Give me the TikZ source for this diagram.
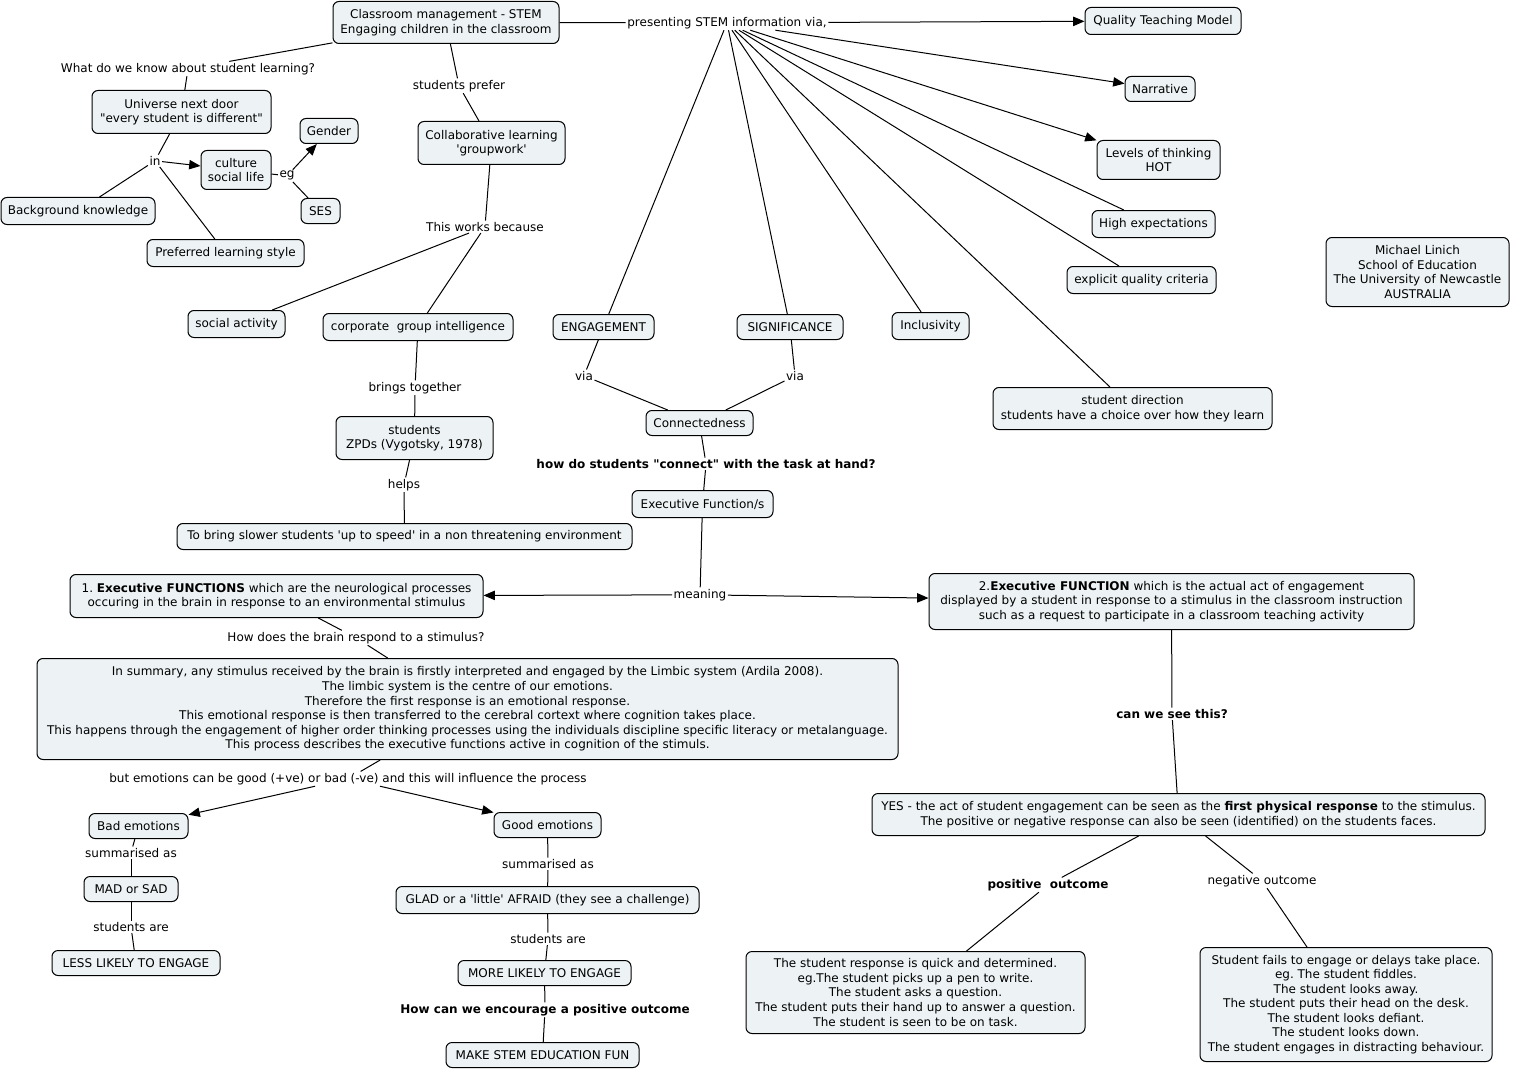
\documentclass[tikz,border=0pt]{standalone}
\usepackage{fontspec}
\usetikzlibrary{arrows.meta}
\newfontfamily\vf{DejaVu Sans}
\definecolor{cfill}{RGB}{237,243,245}
\newcommand\cpt[6]{\node[concept, minimum width={(#4-#2)*0.75pt}, minimum height={(#5-#3)*0.75pt}] (#1) at ({(#2+#4)/2},{(#3+#5)/2+0.5}) {#6};}
\newcommand\lnk[4]{\node[linkph] (#1) at (#2,#3+0.8) {#4};}
\tikzset{
  concept/.style={draw, line width=0.75pt, fill=cfill, rounded corners=4.5pt, inner sep=2pt, align=center},
  linkph/.style={inner sep=1pt, align=center},
  conn/.style={line width=0.75pt},
  arr/.style={line width=0.75pt, -{Triangle[length=8.5pt,width=7pt]}}
}
\frenchspacing
\begin{document}
\frenchspacing
\begin{tikzpicture}[x=0.75pt,y=-0.75pt,font=\vf\fontsize{9}{10.9}\selectfont\frenchspacing]
\useasboundingbox (0,0) rectangle (1513,1070);
% concepts
\cpt{cm}{333}{1}{559}{43}{Classroom management - STEM\\Engaging children in the classroom}
\cpt{qtm}{1085}{7}{1241}{34}{Quality Teaching Model}
\cpt{narr}{1125}{76}{1195}{101}{Narrative}
\cpt{lot}{1097}{140}{1220}{179}{Levels of thinking\\HOT}
\cpt{hiexp}{1092}{210}{1215}{237}{High expectations}
\cpt{eqc}{1067}{266}{1216}{293}{explicit quality criteria}
\cpt{author}{1326}{237}{1509}{306}{Michael Linich\\School of Education\\The University of Newcastle\\AUSTRALIA}
\cpt{und}{92}{90}{271}{133}{Universe next door\\"every student is different"}
\cpt{gender}{300}{118}{358}{143}{Gender}
\cpt{culture}{201}{150}{271}{189}{culture\\social life}
\cpt{ses}{301}{198}{340}{223}{SES}
\cpt{bk}{1}{197}{155}{224}{Background knowledge}
\cpt{pls}{147}{239}{304}{266}{Preferred learning style}
\cpt{collab}{418}{121}{565}{164}{Collaborative learning\\'groupwork'}
\cpt{social}{188}{310}{285}{337}{social activity}
\cpt{corp}{323}{313}{513}{340}{corporate\ \ group intelligence}
\cpt{zpd}{336}{416}{493}{459}{students\\ZPDs (Vygotsky, 1978)}
\cpt{slower}{177}{523}{632}{549}{To bring slower students 'up to speed' in a non threatening environment}
\cpt{eng}{553}{314}{654}{339}{ENGAGEMENT}
\cpt{sig}{737}{314}{843}{339}{SIGNIFICANCE}
\cpt{incl}{892}{312}{969}{339}{Inclusivity}
\cpt{sdir}{993}{387}{1272}{429}{student direction\\students have a choice over how they learn}
\cpt{cnd}{646}{410}{753}{435}{Connectedness}
\cpt{ef}{632}{490}{773}{517}{Executive Function/s}
\cpt{efa}{70}{574}{483}{617}{1. \textbf{Executive FUNCTIONS} which are the neurological processes\\occuring in the brain in response to an environmental stimulus}
\cpt{efb}{929}{573}{1414}{629}{2.\textbf{Executive FUNCTION} which is the actual act of engagement\\displayed by a student in response to a stimulus in the classroom instruction\\such as a request to participate in a classroom teaching activity}
\cpt{summ}{37}{658}{898}{759}{In summary, any stimulus received by the brain is firstly interpreted and engaged by the Limbic system (Ardila 2008).\\The limbic system is the centre of our emotions.\\Therefore the first response is an emotional response.\\This emotional response is then transferred to the cerebral cortext where cognition takes place.\\This happens through the engagement of higher order thinking processes using the individuals discipline specific literacy or metalanguage.\\This process describes the executive functions active in cognition of the stimuls.}
\cpt{bad}{89}{813}{188}{838}{Bad emotions}
\cpt{good}{494}{812}{601}{837}{Good emotions}
\cpt{mad}{84}{876}{178}{901}{MAD or SAD}
\cpt{glad}{396}{886}{699}{913}{GLAD or a 'little' AFRAID (they see a challenge)}
\cpt{less}{52}{950}{220}{975}{LESS LIKELY TO ENGAGE}
\cpt{more}{458}{960}{631}{985}{MORE LIKELY TO ENGAGE}
\cpt{fun}{446}{1042}{639}{1067}{MAKE STEM EDUCATION FUN}
\cpt{yes}{872}{793}{1485}{835}{YES - the act of student engagement can be seen as the \textbf{first physical response} to the stimulus.\\The positive or negative response can also be seen (identified) on the students faces.}
\cpt{pos}{746}{951}{1085}{1033}{The student response is quick and determined.\\eg.The student picks up a pen to write.\\The student asks a question.\\The student puts their hand up to answer a question.\\The student is seen to be on task.}
\cpt{neg}{1200}{947}{1492}{1061}{Student fails to engage or delays take place.\\eg. The student fiddles.\\The student looks away.\\The student puts their head on the desk.\\The student looks defiant.\\The student looks down.\\The student engages in distracting behaviour.}
% linking phrases
\lnk{lknow}{188}{68}{What do we know about student learning?}
\lnk{lpres}{727}{22}{presenting STEM information via,}
\lnk{lpref}{459}{85}{students prefer}
\lnk{lin}{155}{160}{in}
\lnk{leg}{287}{175}{eg}
\lnk{lworks}{485}{226}{This works because}
\lnk{lbring}{415}{387}{brings together}
\lnk{lhelps}{404}{484}{helps}
\lnk{lvia1}{584}{375}{via}
\lnk{lvia2}{795}{375}{via}
\node[linkph,font=\vf\fontsize{9}{10.9}\selectfont\bfseries] (lhow) at (706,463.8) {how do students "connect" with the task at hand?};
\lnk{lmean}{700}{594}{meaning}
\lnk{lbrain}{356}{637}{How does the brain respond to a stimulus?}
\lnk{lbut}{348}{778}{but emotions can be good (+ve) or bad (-ve) and this will influence the process}
\lnk{lsuma}{131}{852}{summarised as}
\lnk{lsumb}{548}{863}{summarised as}
\lnk{lstua}{131}{926}{students are}
\lnk{lstub}{548}{938}{students are}
\node[linkph,font=\vf\fontsize{9}{10.9}\selectfont\bfseries] (lenc) at (545,1009.8) {How can we encourage a positive outcome};
\node[linkph,font=\vf\fontsize{9}{10.9}\selectfont\bfseries] (lsee) at (1172,713.8) {can we see this?};
\node[linkph,font=\vf\fontsize{9}{10.9}\selectfont\bfseries] (lpos) at (1048,884.8) {positive\ \ outcome};
\lnk{lneg}{1262}{880}{negative outcome}
% connectors
\draw[conn] (cm) -- (lknow);
\draw[conn] (lknow) -- (und);
\draw[conn] (und) -- (lin);
\draw[arr] (lin) -- (culture);
\draw[conn] (lin) -- (bk);
\draw[conn] (lin) -- (pls);
\draw[conn] (culture) -- (leg);
\draw[arr] (leg) -- (gender);
\draw[conn] (leg) -- (ses);
\draw[conn] (cm) -- (lpres);
\draw[arr] (lpres) -- (qtm);
\draw[arr] (lpres) -- (narr);
\draw[arr] (lpres) -- (lot);
\draw[conn] (lpres) -- (hiexp);
\draw[conn] (lpres) -- (eqc);
\draw[conn] (lpres) -- (sdir);
\draw[conn] (lpres) -- (incl);
\draw[conn] (lpres) -- (sig);
\draw[conn] (lpres) -- (eng);
\draw[conn] (cm) -- (lpref);
\draw[conn] (lpref) -- (collab);
\draw[conn] (collab) -- (lworks);
\draw[conn] (lworks) -- (social);
\draw[conn] (lworks) -- (corp);
\draw[conn] (corp) -- (lbring);
\draw[conn] (lbring) -- (zpd);
\draw[conn] (zpd) -- (lhelps);
\draw[conn] (lhelps) -- (slower);
\draw[conn] (eng) -- (lvia1);
\draw[conn] (lvia1) -- (cnd);
\draw[conn] (sig) -- (lvia2);
\draw[conn] (lvia2) -- (cnd);
\draw[conn] (cnd) -- (lhow);
\draw[conn] (lhow) -- (ef);
\draw[conn] (ef) -- (lmean);
\draw[arr] (lmean) -- (efa);
\draw[arr] (lmean) -- (efb);
\draw[conn] (efa) -- (lbrain);
\draw[conn] (lbrain) -- (summ);
\draw[conn] (summ) -- (lbut);
\draw[arr] (lbut) -- (bad);
\draw[arr] (lbut) -- (good);
\draw[conn] (bad) -- (lsuma);
\draw[conn] (lsuma) -- (mad);
\draw[conn] (mad) -- (lstua);
\draw[conn] (lstua) -- (less);
\draw[conn] (good) -- (lsumb);
\draw[conn] (lsumb) -- (glad);
\draw[conn] (glad) -- (lstub);
\draw[conn] (lstub) -- (more);
\draw[conn] (more) -- (lenc);
\draw[conn] (lenc) -- (fun);
\draw[conn] (efb) -- (lsee);
\draw[conn] (lsee) -- (yes);
\draw[conn] (yes) -- (lpos);
\draw[conn] (lpos) -- (pos);
\draw[conn] (yes) -- (lneg);
\draw[conn] (lneg) -- (neg);
\end{tikzpicture}
\end{document}
